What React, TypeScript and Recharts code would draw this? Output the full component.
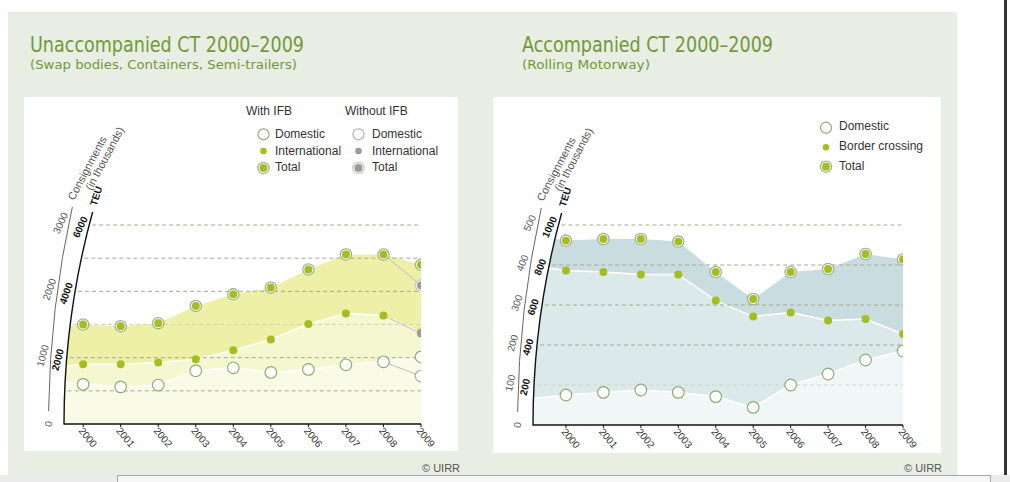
import React from "react";
import { ComposedChart, Area, Line, XAxis, YAxis, ReferenceLine } from "recharts";

const YEARS = [2000, 2001, 2002, 2003, 2004, 2005, 2006, 2007, 2008, 2009];

// Unaccompanied CT, TEU, with IFB
const UNACC_TOTAL = [3000, 2950, 3040, 3560, 3910, 4110, 4660, 5110, 5110, 4800];
const UNACC_INTL = [1800, 1800, 1855, 1955, 2225, 2550, 3015, 3330, 3270, 2760];
const UNACC_DOM = [1195, 1120, 1175, 1605, 1695, 1555, 1645, 1785, 1875, 2025];
// 2009 without IFB: total, international, domestic
const UNACC_NOIFB_2009 = [4180, 2730, 1445];
// where the bands meet the y axis, left of 2000: total, intl, domestic
const UNACC_EDGE = [2930, 1725, 1270];
const UNACC_TICKS = [0, 2000, 4000, 6000];
const UNACC_GRID = [1000, 2000, 3000, 4000, 5000, 6000];

// Accompanied CT (Rolling Motorway), TEU
const ACC_TOTAL = [922, 930, 930, 917, 765, 630, 765, 780, 855, 828];
const ACC_BORDER = [772, 765, 753, 753, 622, 542, 563, 522, 530, 455];
const ACC_DOM = [150, 163, 175, 163, 142, 88, 200, 255, 325, 370];
const ACC_EDGE = [950, 795, 133];
const ACC_TICKS = [0, 200, 400, 600, 800, 1000];
const ACC_GRID = [200, 400, 600, 800, 1000];

const FONT = "'Liberation Sans', Arial, sans-serif";
const GREEN = "#a4be1f";
const GRAY = "#9b9b9b";
const R_IN = 800;
const R_OUT = 1000;
const arcDx = (r: number, dy: number) => r - Math.sqrt(r * r - dy * dy);

// markers
function TotalMark({ cx, cy, fill = GREEN, ring = "#9aae88" }: any) {
  return (
    <g>
      <circle cx={cx} cy={cy} r={5.7} fill="#eef2e6" stroke={ring} strokeWidth={1.1} />
      <circle cx={cx} cy={cy} r={3.9} fill={fill} />
    </g>
  );
}
function IntlMark({ cx, cy, fill = GREEN, r = 4 }: any) {
  return <circle cx={cx} cy={cy} r={r} fill={fill} />;
}
function DomMark({ cx, cy, stroke = "#8fab76", r = 5.8 }: any) {
  return <circle cx={cx} cy={cy} r={r} fill="#fff" stroke={stroke} strokeWidth={1.2} />;
}

const dotFn = (Mark: any, extra: any = {}, only?: number) => (p: any) => {
  if (p.cy == null || p.value == null || (only != null && p.payload.year !== only))
    return <g key={p.index} />;
  return <Mark key={p.index} cx={p.cx} cy={p.cy} {...extra} />;
};

// curved double y axis (TEU inside, consignments outside)
function arcTick(PL: number, PB: number, consDiv: number) {
  return (p: any) => {
    const v = p.payload.value;
    const y = p.y;
    const dy = PB - y;
    const rot = -80 + (Math.asin(dy / R_IN) * 180) / Math.PI;
    const xi = PL + arcDx(R_IN, dy);
    const xo = PL - 15.5 + arcDx(R_OUT, dy);
    if (v === 0) {
      const D = 212;
      const topX = PL + arcDx(R_IN, D);
      const o0 = 13, o1 = 217;
      const ox0 = PL - 15.5 + arcDx(R_OUT, o0);
      const ox1 = PL - 15.5 + arcDx(R_OUT, o1);
      const teuX = PL + arcDx(R_IN, 228);
      return (
        <g>
          <path d={`M${PL},${PB} A${R_IN},${R_IN} 0 0 1 ${topX},${PB - D} L${PL - 1},${PB - D} L${PL - 1},${PB} Z`} fill="#fff" />
          <path d={`M${ox0},${PB - o0} A${R_OUT},${R_OUT} 0 0 1 ${ox1},${PB - o1}`} fill="none" stroke="#666" strokeWidth={1} />
          <path d={`M${PL},${PB + 0.5} A${R_IN},${R_IN} 0 0 1 ${topX},${PB - D}`} fill="none" stroke="#111" strokeWidth={1.4} />
          <text transform={`translate(${xo},${PB}) rotate(-80)`} textAnchor="middle" dy="0.35em" fontSize={10} fill="#555" fontFamily={FONT}>0</text>
          <text transform={`translate(${teuX - 1},${PB - 228}) rotate(-72)`} textAnchor="middle" dy="0.35em" fontSize={10} fontWeight="bold" fill="#111" fontFamily={FONT}>TEU</text>
          <text transform={`translate(${PL + 10},${PB - 223}) rotate(-62)`} fontSize={11} fill="#555" fontFamily={FONT}>
            <tspan x={0} y={0}>Consignments</tspan>
            <tspan x={17} y={11}>(in thousands)</tspan>
          </text>
        </g>
      );
    }
    return (
      <g>
        <text transform={`translate(${xi - 9},${y + 2}) rotate(${rot})`} textAnchor="middle" dy="0.35em" fontSize={10} fontWeight="bold" fill="#111" fontFamily={FONT}>{v}</text>
        <text transform={`translate(${xo - 8},${y - 2}) rotate(${rot})`} textAnchor="middle" dy="0.35em" fontSize={10} fill="#555" fontFamily={FONT}>{v / consDiv}</text>
      </g>
    );
  };
}

const yearTick = (PB: number) => (p: any) => (
  <text transform={`translate(${p.x - 5},${PB + 7}) rotate(50)`} fontSize={10} fill="#333" fontFamily={FONT}>{p.payload.value}</text>
);

const gridShape = (PL: number, PB: number, color: string) => (p: any) => (
  <line x1={PL + arcDx(R_IN, PB - p.y1) + 3} y1={p.y1} x2={p.x2} y2={p.y2} stroke={color} strokeWidth={1} strokeDasharray="4 3" />
);

const unaccRows = [
  { year: 1999.49, aTot: UNACC_EDGE[0], aInt: UNACC_EDGE[1], aDom: UNACC_EDGE[2] },
  ...YEARS.map((year, i) => ({
    year,
    aTot: UNACC_TOTAL[i], aInt: UNACC_INTL[i], aDom: UNACC_DOM[i],
    total: UNACC_TOTAL[i], intl: UNACC_INTL[i], dom: UNACC_DOM[i],
    nTot: i === 8 ? UNACC_TOTAL[i] : i === 9 ? UNACC_NOIFB_2009[0] : null,
    nInt: i === 8 ? UNACC_INTL[i] : i === 9 ? UNACC_NOIFB_2009[1] : null,
    nDom: i === 8 ? UNACC_DOM[i] : i === 9 ? UNACC_NOIFB_2009[2] : null,
  })),
];

const accRows = [
  { year: 1999.12, aTot: ACC_EDGE[0], aBor: ACC_EDGE[1], aDom: ACC_EDGE[2] },
  ...YEARS.map((year, i) => ({
    year,
    aTot: ACC_TOTAL[i], aBor: ACC_BORDER[i], aDom: ACC_DOM[i],
    total: ACC_TOTAL[i], border: ACC_BORDER[i], dom: ACC_DOM[i],
  })),
];

function UnaccChart() {
  const W = 434, H = 354, PL = 40, PB = 327;
  return (
    <ComposedChart width={W} height={H} data={unaccRows} margin={{ top: 128, right: 37, left: 0, bottom: 0 }}>
      <XAxis dataKey="year" type="number" domain={[1999.49, 2009]} allowDataOverflow ticks={YEARS} interval={0} height={27}
        axisLine={{ stroke: "#111", strokeWidth: 1.3 }} tickLine={{ stroke: "#111" }} tickSize={3} tick={yearTick(PB)} />
      <YAxis type="number" domain={[0, 6000]} allowDataOverflow ticks={UNACC_TICKS} interval={0} width={40}
        axisLine={false} tickLine={false} tick={arcTick(PL, PB, 2)} />
      <Area type="linear" dataKey="aTot" fill="#eef0a7" fillOpacity={1} stroke="none" isAnimationActive={false} activeDot={false} />
      <Area type="linear" dataKey="aInt" fill="#f5f7d1" fillOpacity={1} stroke="#fff" strokeWidth={1.5} isAnimationActive={false} activeDot={false} />
      <Area type="linear" dataKey="aDom" fill="#fafbe7" fillOpacity={1} stroke="#fff" strokeWidth={1.5} isAnimationActive={false} activeDot={false} />
      {UNACC_GRID.map((v) => (
        <ReferenceLine key={v} y={v} ifOverflow="visible" shape={gridShape(PL, PB, v === 3000 ? "#d2d4ae" : "#a9a78f")} />
      ))}
      <Line dataKey="nTot" stroke="#bdbdbd" strokeWidth={1} dot={false} activeDot={false} isAnimationActive={false} />
      <Line dataKey="nInt" stroke="#bdbdbd" strokeWidth={1} dot={false} activeDot={false} isAnimationActive={false} />
      <Line dataKey="nDom" stroke="#bdbdbd" strokeWidth={1} dot={false} activeDot={false} isAnimationActive={false} />
      <Line dataKey="dom" stroke="none" dot={dotFn(DomMark)} activeDot={false} isAnimationActive={false} />
      <Line dataKey="intl" stroke="none" dot={dotFn(IntlMark)} activeDot={false} isAnimationActive={false} />
      <Line dataKey="total" stroke="none" dot={dotFn(TotalMark)} activeDot={false} isAnimationActive={false} />
      <Line dataKey="nDom" stroke="none" dot={dotFn(DomMark, { stroke: "#a3b098" }, 2009)} activeDot={false} isAnimationActive={false} />
      <Line dataKey="nInt" stroke="none" dot={dotFn(IntlMark, { fill: GRAY }, 2009)} activeDot={false} isAnimationActive={false} />
      <Line dataKey="nTot" stroke="none" dot={dotFn(TotalMark, { fill: GRAY, ring: "#c4c4c4" }, 2009)} activeDot={false} isAnimationActive={false} />
    </ComposedChart>
  );
}

function AccChart() {
  const W = 448, H = 356, PL = 40, PB = 328;
  return (
    <ComposedChart width={W} height={H} data={accRows} margin={{ top: 128, right: 38, left: 0, bottom: 0 }}>
      <XAxis dataKey="year" type="number" domain={[1999.12, 2009]} allowDataOverflow ticks={YEARS} interval={0} height={28}
        axisLine={{ stroke: "#111", strokeWidth: 1.3 }} tickLine={{ stroke: "#111" }} tickSize={3} tick={yearTick(PB)} />
      <YAxis type="number" domain={[0, 1000]} allowDataOverflow ticks={ACC_TICKS} interval={0} width={40}
        axisLine={false} tickLine={false} tick={arcTick(PL, PB, 2)} />
      <Area type="linear" dataKey="aTot" fill="#c9dde0" fillOpacity={1} stroke="none" isAnimationActive={false} activeDot={false} />
      <Area type="linear" dataKey="aBor" fill="#dce9eb" fillOpacity={1} stroke="#fff" strokeWidth={1.5} isAnimationActive={false} activeDot={false} />
      <Area type="linear" dataKey="aDom" fill="#f1f6f6" fillOpacity={1} stroke="#fff" strokeWidth={1.5} isAnimationActive={false} activeDot={false} />
      {ACC_GRID.map((v) => (
        <ReferenceLine key={v} y={v} ifOverflow="visible" shape={gridShape(PL, PB, v === 200 ? "#cdd5c6" : "#a9a78f")} />
      ))}
      <Line dataKey="dom" stroke="none" dot={dotFn(DomMark)} activeDot={false} isAnimationActive={false} />
      <Line dataKey="border" stroke="none" dot={dotFn(IntlMark)} activeDot={false} isAnimationActive={false} />
      <Line dataKey="total" stroke="none" dot={dotFn(TotalMark)} activeDot={false} isAnimationActive={false} />
    </ComposedChart>
  );
}

function Overlay() {
  const t = { fontFamily: FONT, fontSize: 12, fill: "#333" };
  const title = { fontFamily: "'DejaVu Sans', sans-serif", fill: "#72983a" };
  return (
    <svg width={1010} height={482} style={{ position: "absolute", left: 0, top: 0, pointerEvents: "none" }}>
      <text x={30} y={52} fontSize={21} textLength={274} lengthAdjust="spacingAndGlyphs" {...title}>Unaccompanied CT 2000–2009</text>
      <text x={30} y={69} fontSize={13} textLength={267} lengthAdjust="spacingAndGlyphs" {...title}>(Swap bodies, Containers, Semi-trailers)</text>
      <text x={522} y={52} fontSize={21} textLength={251} lengthAdjust="spacingAndGlyphs" {...title}>Accompanied CT 2000–2009</text>
      <text x={522} y={69} fontSize={13} textLength={128} lengthAdjust="spacingAndGlyphs" {...title}>(Rolling Motorway)</text>

      <text x={246} y={115} {...t}>With IFB</text>
      <text x={345} y={115} {...t}>Without IFB</text>
      <DomMark cx={263.5} cy={134.3} r={5.5} />
      <IntlMark cx={263.5} cy={151} r={3.3} />
      <TotalMark cx={263.5} cy={168} />
      <text x={275} y={138} {...t}>Domestic</text>
      <text x={275} y={154.5} {...t}>International</text>
      <text x={275} y={170.5} {...t}>Total</text>
      <DomMark cx={358.5} cy={134.3} r={5.5} stroke="#b0b0b0" />
      <IntlMark cx={358.5} cy={151} r={3.3} fill={GRAY} />
      <TotalMark cx={358.5} cy={168} fill={GRAY} ring="#c4c4c4" />
      <text x={372} y={138} {...t}>Domestic</text>
      <text x={372} y={154.5} {...t}>International</text>
      <text x={372} y={170.5} {...t}>Total</text>

      <DomMark cx={826} cy={127.7} r={5.5} />
      <IntlMark cx={826} cy={147.3} r={3.3} />
      <TotalMark cx={826} cy={166.7} />
      <text x={839} y={130} {...t}>Domestic</text>
      <text x={839} y={150} {...t}>Border crossing</text>
      <text x={839} y={169.5} {...t}>Total</text>

      <text x={422} y={472} fontFamily={FONT} fontSize={11} fill="#555">© UIRR</text>
      <text x={904} y={472} fontFamily={FONT} fontSize={11} fill="#555">© UIRR</text>
    </svg>
  );
}

export default function App() {
  return (
    <div style={{ position: "absolute", left: 0, top: 0, width: 1010, height: 482, background: "#fff", overflow: "hidden" }}>
      <div style={{ position: "absolute", left: 8, top: 12, width: 949, height: 463, background: "#e8eee3" }} />
      <div style={{ position: "absolute", left: 24, top: 97, width: 434, height: 354, background: "#fff" }} />
      <div style={{ position: "absolute", left: 493, top: 97, width: 448, height: 356, background: "#fff" }} />
      <div style={{ position: "absolute", left: 24, top: 97 }}>
        <UnaccChart />
      </div>
      <div style={{ position: "absolute", left: 493, top: 97 }}>
        <AccChart />
      </div>
      <Overlay />
      <div style={{ position: "absolute", left: 1004, top: 0, width: 3, height: 475, background: "#333" }} />
      <div style={{ position: "absolute", left: 0, top: 475, width: 1010, height: 7, background: "#ececec" }} />
      <div style={{ position: "absolute", left: 117, top: 475, width: 874, height: 7, boxSizing: "border-box", borderTop: "1px solid #a8a8a8", borderLeft: "1px solid #a8a8a8", borderRight: "1px solid #a8a8a8", background: "#f6f6f6" }} />
    </div>
  );
}
